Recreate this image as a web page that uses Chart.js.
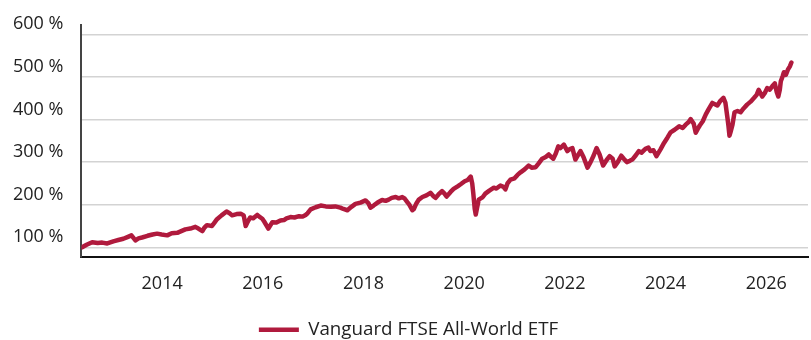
<!DOCTYPE html>
<html>
<head>
<meta charset="utf-8">
<script src="https://cdn.jsdelivr.net/npm/chart.js@4/dist/chart.umd.min.js"></script>
<style>
  html, body { margin: 0; padding: 0; background: #fff; overflow: hidden; }
  #wrap { width: 811px; height: 340px; }
</style>
</head>
<body>
<div id="wrap"><canvas id="fundChart"></canvas></div>
<script>
// ================== DATA ==================
const SERIES_LABEL = 'Vanguard FTSE All-World ETF';

// time axis as decimal years
const years = [
  2012.41, 2012.50, 2012.61, 2012.72, 2012.81, 2012.91, 2013.03, 2013.13, 2013.23, 2013.31,
  2013.39, 2013.47, 2013.53, 2013.60, 2013.71, 2013.81, 2013.90, 2013.99, 2014.10, 2014.19,
  2014.30, 2014.38, 2014.46, 2014.56, 2014.66, 2014.72, 2014.80, 2014.84, 2014.89, 2014.99,
  2015.04, 2015.09, 2015.18, 2015.28, 2015.34, 2015.39, 2015.48, 2015.56, 2015.62, 2015.66,
  2015.70, 2015.75, 2015.81, 2015.89, 2015.93, 2015.99, 2016.03, 2016.11, 2016.19, 2016.27,
  2016.35, 2016.42, 2016.47, 2016.55, 2016.63, 2016.72, 2016.79, 2016.85, 2016.89, 2016.95,
  2017.05, 2017.15, 2017.25, 2017.35, 2017.44, 2017.54, 2017.60, 2017.68, 2017.76, 2017.84,
  2017.94, 2018.04, 2018.10, 2018.14, 2018.20, 2018.28, 2018.37, 2018.44, 2018.50, 2018.56,
  2018.64, 2018.70, 2018.77, 2018.82, 2018.87, 2018.91, 2018.97, 2019.00, 2019.05, 2019.10,
  2019.17, 2019.25, 2019.33, 2019.39, 2019.43, 2019.49, 2019.56, 2019.61, 2019.65, 2019.73,
  2019.79, 2019.87, 2019.93, 2020.01, 2020.07, 2020.13, 2020.16, 2020.18, 2020.21, 2020.23,
  2020.26, 2020.29, 2020.37, 2020.42, 2020.50, 2020.59, 2020.64, 2020.72, 2020.78, 2020.82,
  2020.86, 2020.92, 2021.00, 2021.06, 2021.12, 2021.20, 2021.28, 2021.34, 2021.42, 2021.48,
  2021.55, 2021.62, 2021.68, 2021.72, 2021.77, 2021.82, 2021.87, 2021.91, 2021.98, 2022.05,
  2022.09, 2022.15, 2022.21, 2022.27, 2022.31, 2022.37, 2022.45, 2022.51, 2022.57, 2022.63,
  2022.69, 2022.76, 2022.83, 2022.89, 2022.95, 2022.99, 2023.05, 2023.12, 2023.17, 2023.23,
  2023.29, 2023.34, 2023.41, 2023.47, 2023.52, 2023.60, 2023.66, 2023.70, 2023.76, 2023.82,
  2023.90, 2023.97, 2024.04, 2024.10, 2024.18, 2024.27, 2024.34, 2024.40, 2024.46, 2024.50,
  2024.56, 2024.60, 2024.64, 2024.68, 2024.74, 2024.80, 2024.86, 2024.93, 2024.98, 2025.03,
  2025.09, 2025.15, 2025.19, 2025.23, 2025.25, 2025.27, 2025.29, 2025.33, 2025.37, 2025.43,
  2025.49, 2025.55, 2025.62, 2025.69, 2025.76, 2025.81, 2025.85, 2025.92, 2025.97, 2026.02,
  2026.07, 2026.12, 2026.17, 2026.21, 2026.24, 2026.27, 2026.29, 2026.33, 2026.35, 2026.39,
  2026.43, 2026.47, 2026.50
];

// cumulative value in percent of the starting value
const values = [
  100, 106, 112, 110, 111, 109, 114, 117, 120, 124,
  128, 116, 121, 123, 127, 130, 132, 130, 128, 133,
  134, 138, 142, 144, 148, 144, 138, 146, 152, 150,
  158, 166, 175, 184, 180, 175, 178, 179, 175, 150,
  160, 170, 168, 176, 172, 167, 160, 144, 159, 158,
  163, 164, 168, 171, 170, 173, 172, 176, 180, 189,
  194, 198, 196, 195, 196, 193, 190, 187, 195, 202,
  205, 210, 203, 193, 198, 205, 211, 209, 212, 216,
  218, 215, 218, 214, 206, 200, 187, 190, 203, 212,
  218, 222, 228, 220, 216, 224, 232, 226, 219, 230,
  237, 243, 248, 255, 258, 266, 250, 228, 190, 177,
  195, 212, 218, 226, 233, 240, 238, 245, 242, 236,
  250, 259, 262, 270, 276, 283, 292, 287, 288, 297,
  308, 312, 318, 313, 308, 320, 337, 333, 341, 326,
  330, 333, 306, 318, 326, 312, 287, 300, 315, 333,
  318, 292, 305, 314, 308, 290, 300, 315, 308, 300,
  303, 306, 316, 326, 322, 331, 334, 326, 328, 314,
  330, 345, 358, 370, 376, 384, 380, 388, 394, 401,
  390, 369, 378, 386, 396, 412, 425, 439, 436, 433,
  444, 451, 439, 404, 385, 362, 370, 388, 417, 420,
  417, 426, 435, 442, 451, 458, 470, 454, 462, 474,
  470, 478, 485, 464, 454, 470, 490, 503, 511, 505,
  517, 525, 534
];

const yearTicks = [2014, 2016, 2018, 2020, 2022, 2024, 2026];
const percentTicks = [100, 200, 300, 400, 500, 600];

// ================== CHART ==================
Chart.defaults.font.family = "'Open Sans', 'Noto Sans', sans-serif";
Chart.defaults.font.size = 18;
Chart.defaults.color = '#222';

const LINE_COLOR = '#b01a3d';

new Chart(document.getElementById('fundChart'), {
  type: 'line',
  data: {
    datasets: [{
      label: SERIES_LABEL,
      data: years.map((y, i) => ({ x: y, y: values[i] })),
      borderColor: LINE_COLOR,
      backgroundColor: LINE_COLOR,
      borderWidth: 4.5,
      borderCapStyle: 'round',
      borderJoinStyle: 'round',
      pointRadius: 0,
      tension: 0
    }]
  },
  options: {
    responsive: true,
    maintainAspectRatio: false,
    animation: false,
    layout: { padding: { top: 25, left: 9, right: 3, bottom: -9 } },
    scales: {
      x: {
        type: 'linear',
        min: 2012.397,
        max: 2026.83,
        afterBuildTicks: axis => { axis.ticks = yearTicks.map(v => ({ value: v })); },
        ticks: { padding: 16, maxRotation: 0, callback: v => String(v) },
        grid: { display: false, drawTicks: false },
        border: { display: true, color: '#111', width: 2 }
      },
      y: {
        min: 78,
        max: 622,
        afterBuildTicks: axis => { axis.ticks = percentTicks.map(v => ({ value: v })); },
        // labels sit above their grid line; drop the extra room chart.js reserves
        afterFit: axis => {
          axis.width -= 14;
          axis.paddingTop = 0;
        },
        ticks: { padding: 18, labelOffset: -10, callback: v => v + ' %' },
        grid: { color: '#d3d3d3', lineWidth: 1.5, drawTicks: false },
        border: { display: true, color: '#444', width: 2 }
      }
    },
    plugins: {
      tooltip: { enabled: false },
      legend: {
        position: 'bottom',
        labels: {
          usePointStyle: true,
          pointStyle: 'line',
          pointStyleWidth: 40,
          padding: 10,
          color: '#222',
          font: { size: 18.75 }
        }
      }
    }
  }
});
</script>
</body>
</html>
